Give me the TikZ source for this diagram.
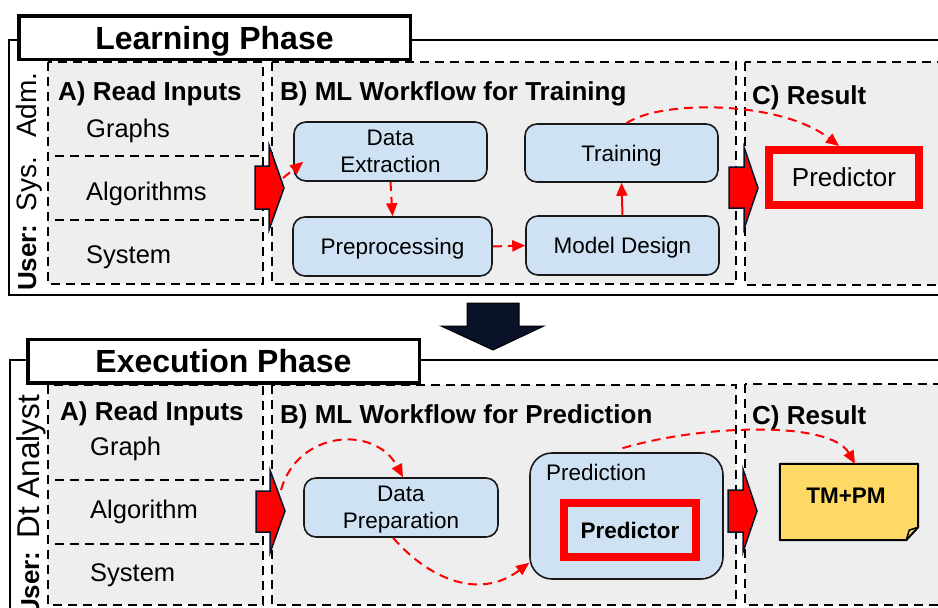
\documentclass[tikz,border=0pt]{standalone}
\usepackage{fontspec}
\setmainfont{Liberation Sans}
\usetikzlibrary{arrows.meta,calc}
\definecolor{panelgray}{HTML}{EEEEEE}
\definecolor{boxblue}{HTML}{CFE2F3}
\definecolor{notey}{HTML}{FFD966}
\definecolor{navy}{HTML}{0A1229}
\definecolor{hotred}{HTML}{FF0000}
\tikzset{
  panel/.style={draw=black, line width=1.8pt, dash pattern=on 9pt off 6pt, fill=panelgray},
  divider/.style={draw=black, line width=1.8pt, dash pattern=on 9pt off 6pt},
  frame/.style={draw=black, line width=1.5pt},
  titlebox/.style={draw=black, line width=3.5pt, fill=white, minimum width=391.5pt,
    minimum height=43.5pt, inner sep=0pt, text depth=0pt, font=\bfseries\fontsize{32}{32}\selectfont},
  stepbox/.style={draw=black!90, line width=1.6pt, fill=boxblue, rounded corners=12pt,
    inner sep=0pt, text depth=0pt, align=center, font=\fontsize{22.5}{27}\selectfont},
  heading/.style={anchor=base west, inner sep=0pt, font=\bfseries\fontsize{26}{26}\selectfont},
  item/.style={anchor=base west, inner sep=0pt, font=\fontsize{25.5}{25.5}\selectfont},
  bigarrow/.style={draw=navy, line width=1.5pt, fill=hotred, line join=miter},
  flow/.style={draw=hotred, line width=2pt, dash pattern=on 9pt off 6pt,
    -{Triangle[length=13pt,width=11pt]}},
  flowsolid/.style={draw=hotred, line width=2pt, -{Triangle[length=13pt,width=11pt]}},
  predbox/.style={draw=hotred, line width=8pt, inner sep=0pt}
}
\begin{document}
\begin{tikzpicture}[x=1pt,y=-1pt]
\useasboundingbox (0,0) rectangle (938,608);

% ---------------- Learning phase ----------------
\draw[frame] (9,40) rectangle (950,295);
\draw[panel] (48,62) rectangle (263,284);
\draw[panel] (272,62) rectangle (736,284);
\draw[panel] (745,62) rectangle (960,285);
\draw[divider] (55,156) -- (263,156);
\draw[divider] (55,220) -- (263,220);
\node[titlebox] (ltitle) at (214.5,37.5) {Learning Phase};

\node[rotate=90, anchor=base west, inner sep=0pt] (luser) at (36,291)
  {{\bfseries\fontsize{26}{26}\selectfont User:}\hspace{13pt}{\fontsize{28}{28}\selectfont Sys.\hspace{19pt}Adm.}};

\node[heading] (lha) at (58,100) {A) Read Inputs};
\node[item] (lgraphs) at (86,137) {Graphs};
\node[item] (lalgos) at (86,200) {Algorithms};
\node[item] (lsys) at (86,263) {System};
\node[heading] (lhb) at (280,100) {B) ML Workflow for Training};
\node[heading] (lhc) at (752,104) {C) Result};

\node[stepbox, minimum width=193pt, minimum height=59pt] (de) at (390.5,151.5) {Data\\Extraction};
\node[stepbox, minimum width=199pt, minimum height=59pt] (pp) at (392.5,246.5) {Preprocessing};
\node[stepbox, minimum width=193pt, minimum height=58pt] (tr) at (621.5,153) {Training};
\node[stepbox, minimum width=193pt, minimum height=59pt] (md) at (622.5,245.5) {Model Design};
\node[predbox, fill=panelgray, minimum width=150pt, minimum height=55pt,
  font=\fontsize{26}{26}\selectfont] (pred) at (844,177.5) {Predictor};

% block arrows between the panels
\draw[bigarrow] (255,166) -- (269,166) -- (269,145) -- (284,188) -- (269,230) -- (269,209) -- (255,209) -- cycle;
\draw[bigarrow] (729,167) -- (744,167) -- (744,147) -- (758,188) -- (744,229) -- (744,208) -- (729,208) -- cycle;
\coordinate (ltip) at (283,178);

\draw[flow] (ltip) -- ($(de.south west)+(10,-20)$);
\draw[flow] (de.south) -- (pp.north);
\draw[flow] (pp.east) -- (md.west);
\draw[flowsolid] (md.north) -- (tr.south);
\draw[flow] ($(tr.north)+(5,0)$) .. controls (660,100) and (780,100) .. ($(pred.north)+(-5,0)$);

% ---------------- Phase change arrow ----------------
\draw[draw=black, line width=1pt, fill=navy, line join=miter]
  (467,303) -- (519,303) -- (519,326) -- (544,326) -- (493,350) -- (441,326) -- (467,326) -- cycle;

% ---------------- Execution phase ----------------
\draw[frame] (10,360) rectangle (950,640);
\draw[panel] (48,385) rectangle (263,605);
\draw[panel] (272,385) rectangle (736,605);
\draw[panel] (745,384) rectangle (960,605);
\draw[divider] (55,480) -- (263,480);
\draw[divider] (55,544) -- (263,544);
\node[titlebox] (etitle) at (223.5,361) {Execution Phase};

\node[rotate=90, anchor=base west, inner sep=0pt] (euser) at (39,618)
  {{\bfseries\fontsize{26}{26}\selectfont User:}\hspace{13pt}{\fontsize{31.5}{31.5}\selectfont Dt Analyst}};

\node[heading] (eha) at (60,420) {A) Read Inputs};
\node[item] (egraph) at (90,455) {Graph};
\node[item] (ealgo) at (90,518) {Algorithm};
\node[item] (esys) at (90,581) {System};
\node[heading] (ehb) at (280,423) {B) ML Workflow for Prediction};
\node[heading] (ehc) at (752,424) {C) Result};

\node[stepbox, minimum width=194pt, minimum height=59pt] (dp) at (401,507.5) {Data\\Preparation};
\node[stepbox, rounded corners=22pt, minimum width=193pt, minimum height=126pt] (pc) at (626.5,516) {};
\node[anchor=base west, inner sep=0pt, font=\fontsize{22.5}{22.5}\selectfont] (pclabel) at (546,480) {Prediction};
\node[predbox, fill=boxblue, minimum width=132pt, minimum height=54pt,
  font=\bfseries\fontsize{22.5}{22.5}\selectfont] (epred) at (630,530) {Predictor};

% result note with folded corner
\node[minimum width=138pt, minimum height=76pt, inner sep=0pt] (tmpm) at (849,502) {};
\draw[line width=2pt, fill=notey, line join=round]
  (tmpm.north west) -- (tmpm.north east) -- ($(tmpm.south east)+(0,-13)$)
  -- ($(tmpm.south east)+(-12,0)$) -- (tmpm.south west) -- cycle;
\draw[line width=1.5pt, line join=round]
  ($(tmpm.south east)+(0,-13)$) -- ($(tmpm.south east)+(-9,-10)$) -- ($(tmpm.south east)+(-12,0)$);
\node[inner sep=0pt, font=\bfseries\fontsize{22.5}{22.5}\selectfont] (tmtext) at (846,496) {TM+PM};

\draw[bigarrow] (256,491) -- (270,491) -- (270,470) -- (285,511) -- (270,553) -- (270,532) -- (256,532) -- cycle;
\draw[bigarrow] (728,490) -- (743,490) -- (743,469) -- (757,511) -- (743,552) -- (743,532) -- (728,532) -- cycle;
\coordinate (etip) at (281,490);

\draw[flow] (etip) .. controls (298,430) and (375,425) .. ($(dp.north)+(2,0)$);
\draw[flow] ($(dp.south)+(-8,0)$) .. controls (430,580) and (480,600) .. ($(pc.south west)+(0,-17)$);
\draw[flow] ($(pc.north)+(-4,-4)$) .. controls (700,425) and (830,420) .. ($(tmpm.north)+(6,0)$);
\end{tikzpicture}
\end{document}
